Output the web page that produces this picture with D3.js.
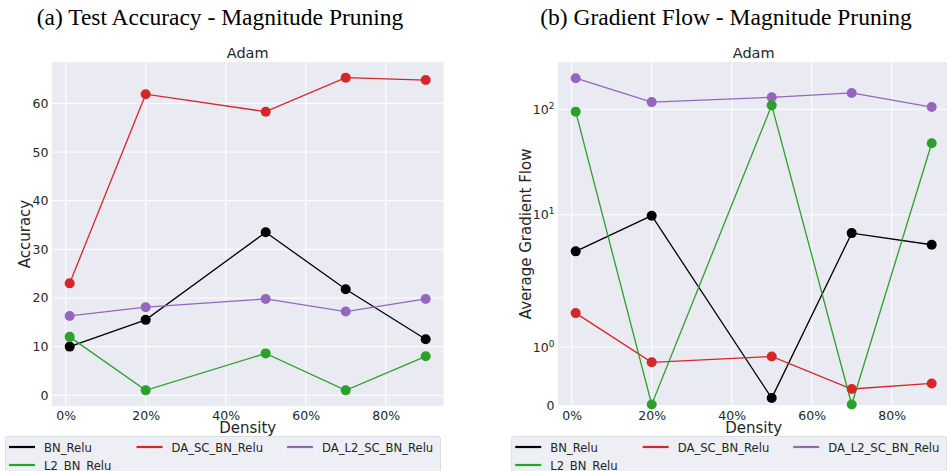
<!DOCTYPE html>
<html>
<head>
<meta charset="utf-8">
<script src="https://cdn.jsdelivr.net/npm/d3@7"></script>
<style>
  html, body { margin: 0; padding: 0; background: #ffffff; }
  svg { display: block; }
  .tick text { font-family: "DejaVu Sans", sans-serif; fill: #262626; }
</style>
</head>
<body>
<svg id="chart" width="947" height="471"></svg>
<script>
// Pruning densities (%) on the x axis
const densities = [1, 20, 50, 70, 90];
const seriesNames = ["BN_Relu", "DA_SC_BN_Relu", "DA_L2_SC_BN_Relu", "L2_BN_Relu"];
const seriesColors = ["#000000", "#d62728", "#9467bd", "#2ca02c"];

// Test accuracy per density
const accBN      = [10.0, 15.5, 33.5, 21.8, 11.5];
const accDASC    = [23.0, 61.9, 58.3, 65.3, 64.8];
const accDAL2SC  = [16.3, 18.1, 19.8, 17.2, 19.8];
const accL2      = [12.0, 1.0, 8.6, 1.0, 8.0];

// Average gradient flow per density
const flowBN     = [4.5, 9.8, 0.13, 6.7, 5.2];
const flowDASC   = [1.58, 0.74, 0.84, 0.285, 0.38];
const flowDAL2SC = [197, 117, 130, 143, 105];
const flowL2     = [95, 0.02, 109, 0.02, 47.6];

// Tick values
const xTicks = [0, 20, 40, 60, 80];
const accTicks = [0, 10, 20, 30, 40, 50, 60];
const flowTicks = [0, 1, 10, 100];
const flowTickExp = ["", "0", "1", "2"];

const svg = d3.select("#chart");
const FONT = "DejaVu Sans, sans-serif";

// symmetric log transform (linthresh 2, linscale 1, base 10)
const LT = 2, LSA = 1 / (1 - 1 / 10);
function symT(v) {
  const a = Math.abs(v);
  if (a <= LT) return v * LSA;
  return Math.sign(v) * LT * (LSA + Math.log10(a / LT));
}

function drawPanel(opt) {
  const g = svg.append("g");
  const x = d3.scaleLinear().domain([-3.45, 94.45]).range([opt.left, opt.left + 391.6]);
  const y = opt.y;
  const [yb, yt] = y.range();

  // plot background
  g.append("rect")
    .attr("x", x.range()[0]).attr("y", yt)
    .attr("width", x.range()[1] - x.range()[0]).attr("height", yb - yt)
    .attr("fill", "#eaeaf2");

  // grid
  g.append("g").selectAll("line").data(xTicks).join("line")
    .attr("x1", d => x(d)).attr("x2", d => x(d))
    .attr("y1", yt).attr("y2", yb)
    .attr("stroke", "#ffffff").attr("stroke-width", 1);
  g.append("g").selectAll("line").data(opt.yTickVals).join("line")
    .attr("x1", x.range()[0]).attr("x2", x.range()[1])
    .attr("y1", d => y(d)).attr("y2", d => y(d))
    .attr("stroke", "#ffffff").attr("stroke-width", 1);

  // axes (no tick marks, no domain line)
  const xAxis = d3.axisBottom(x).tickValues(xTicks).tickSize(0).tickPadding(5)
    .tickFormat(d => d + "%");
  const gx = g.append("g").attr("transform", `translate(0,${yb})`).call(xAxis);
  gx.select(".domain").remove();
  gx.selectAll(".tick text").attr("font-size", 12.5).attr("dy", "0.71em").attr("y", 5);

  const yAxis = d3.axisLeft(y).tickValues(opt.yTickVals).tickSize(0).tickPadding(3.5)
    .tickFormat(opt.yFormat);
  const gy = g.append("g").attr("transform", `translate(${x.range()[0]},0)`).call(yAxis);
  gy.select(".domain").remove();
  gy.selectAll(".tick text").attr("font-size", 12.5);
  if (opt.yDecorate) opt.yDecorate(gy);

  // series
  const line = d3.line().x((d, i) => x(densities[i])).y(d => y(d));
  opt.series.forEach((vals, k) => {
    g.append("path").datum(vals)
      .attr("d", line)
      .attr("fill", "none")
      .attr("stroke", seriesColors[k])
      .attr("stroke-width", 1.3);
  });
  opt.series.forEach((vals, k) => {
    g.append("g").selectAll("circle").data(vals).join("circle")
      .attr("cx", (d, i) => x(densities[i]))
      .attr("cy", d => y(d))
      .attr("r", 5)
      .attr("fill", seriesColors[k]);
  });

  const cx = (x.range()[0] + x.range()[1]) / 2;

  // subtitle
  g.append("text").attr("x", cx).attr("y", 58)
    .attr("text-anchor", "middle").attr("font-family", FONT)
    .attr("font-size", 14.5).attr("fill", "#262626").text("Adam");

  // panel title
  g.append("text").attr("x", opt.titleX).attr("y", 25)
    .attr("text-anchor", "middle")
    .attr("font-family", "Liberation Serif, Times New Roman, serif")
    .attr("font-size", 23.5).attr("fill", "#000000").text(opt.title);

  // axis labels
  g.append("text").attr("x", cx).attr("y", 433)
    .attr("text-anchor", "middle").attr("font-family", FONT)
    .attr("font-size", 15).attr("fill", "#262626").text("Density");
  g.append("text")
    .attr("transform", `translate(${opt.yLabelX},${(yb + yt) / 2}) rotate(-90)`)
    .attr("text-anchor", "middle").attr("font-family", FONT)
    .attr("font-size", 15).attr("fill", "#262626").text(opt.yLabel);

  // legend
  const lg = g.append("g").attr("transform", `translate(${opt.legendX},436.5)`);
  lg.append("rect").attr("x", 0).attr("y", 0).attr("width", 435).attr("height", 40)
    .attr("rx", 2).attr("fill", "#eeeef5").attr("stroke", "#dcdce4").attr("stroke-width", 1);
  const colX = [3.5, 131, 281.5];
  seriesNames.forEach((name, k) => {
    const col = k % 3, row = Math.floor(k / 3);
    const hx = colX[col], hy = 10.5 + row * 18;
    lg.append("line").attr("x1", hx).attr("x2", hx + 26)
      .attr("y1", hy).attr("y2", hy)
      .attr("stroke", seriesColors[k]).attr("stroke-width", 2.2);
    lg.append("text")
      .attr("transform", `translate(${hx + 35},${hy + 4.5}) scale(0.93,1)`)
      .attr("font-family", FONT).attr("font-size", 12.5).attr("fill", "#262626")
      .text(name);
  });
}

// (a) accuracy panel
drawPanel({
  left: 51.9,
  y: d3.scaleLinear().domain([-2.215, 68.515]).range([406, 62]),
  yTickVals: accTicks,
  yFormat: d => d,
  series: [accBN, accDASC, accDAL2SC, accL2],
  title: "(a) Test Accuracy - Magnitude Pruning",
  titleX: 220,
  yLabel: "Accuracy",
  yLabelX: 29.5,
  legendX: 5.5
});

// (b) gradient flow panel, symlog y axis
const flowLinear = d3.scaleLinear().domain([0, 6.517]).range([405.7, 62]);
const flowScale = v => flowLinear(symT(v));
flowScale.range = () => flowLinear.range();
flowScale.domain = () => [0, 280];
flowScale.copy = () => flowScale;
flowScale.ticks = () => flowTicks;
flowScale.tickFormat = () => (d => d);

drawPanel({
  left: 557.9,
  y: flowScale,
  yTickVals: flowTicks,
  yFormat: d => (d === 0 ? "0" : "10"),
  yDecorate: gy => {
    gy.selectAll(".tick text").each(function(d, i) {
      const e = flowTickExp[i];
      if (e) {
        d3.select(this).append("tspan")
          .attr("dy", "-0.55em").attr("font-size", 9).text(e);
      }
    });
  },
  series: [flowBN, flowDASC, flowDAL2SC, flowL2],
  title: "(b) Gradient Flow - Magnitude Pruning",
  titleX: 726,
  yLabel: "Average Gradient Flow",
  yLabelX: 530.5,
  legendX: 511.7
});
</script>
</body>
</html>
